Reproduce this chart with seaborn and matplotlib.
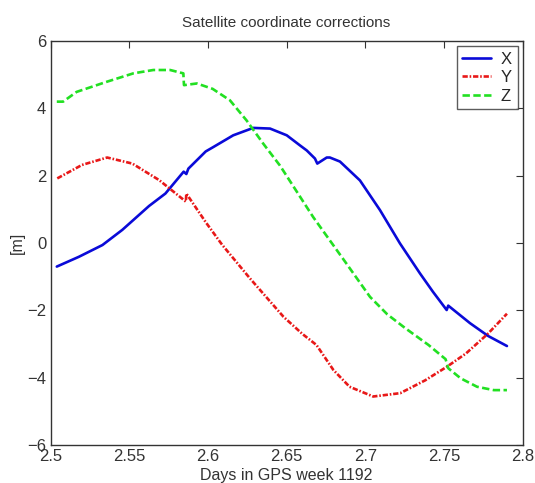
import numpy as np
import pandas as pd
import matplotlib
matplotlib.use('Agg')
import matplotlib.pyplot as plt
import seaborn as sns

# values
x_days = [2.504, 2.518, 2.533, 2.5456, 2.5626, 2.573, 2.5846, 2.5863, 2.5876, 2.5986,
          2.6034, 2.6161, 2.6288, 2.6395, 2.6501, 2.6585, 2.6628, 2.668, 2.6695, 2.6755,
          2.6775, 2.6839, 2.6966, 2.7093, 2.722, 2.7347, 2.743, 2.7517, 2.7527, 2.7665,
          2.778, 2.790]
x_corr = [-0.70, -0.41, -0.06, 0.39, 1.10, 1.47, 2.12, 2.05, 2.21, 2.72,
          2.85, 3.20, 3.42, 3.40, 3.20, 2.90, 2.75, 2.51, 2.36, 2.54,
          2.54, 2.42, 1.86, 0.98, -0.01, -0.90, -1.45, -1.99, -1.86, -2.38,
          -2.76, -3.06]

y_days = [2.5043, 2.520, 2.536, 2.552, 2.569, 2.586, 2.5863, 2.5986, 2.609, 2.6267,
          2.648, 2.660, 2.669, 2.6797, 2.690, 2.705, 2.7222, 2.738, 2.7517, 2.764,
          2.778, 2.790]
y_corr = [1.92, 2.32, 2.54, 2.36, 1.87, 1.23, 1.47, 0.62, -0.05, -1.05,
          -2.19, -2.70, -3.03, -3.77, -4.27, -4.56, -4.46, -4.08, -3.68, -3.28,
          -2.69, -2.10]

z_days = [2.504, 2.508, 2.5166, 2.5357, 2.5526, 2.5653, 2.576, 2.5844, 2.5848, 2.593,
          2.603, 2.614, 2.6246, 2.6352, 2.6458, 2.6669, 2.688, 2.703, 2.714, 2.7254,
          2.7402, 2.751, 2.7527, 2.7606, 2.771, 2.7816, 2.790]
z_corr = [4.20, 4.20, 4.49, 4.79, 5.04, 5.14, 5.14, 5.04, 4.69, 4.74,
          4.58, 4.24, 3.64, 2.95, 2.30, 0.77, -0.61, -1.60, -2.12, -2.53,
          -3.03, -3.45, -3.72, -4.02, -4.27, -4.37, -4.37]

sns.set_style('white')
plt.rcParams['font.family'] = ['Liberation Sans', 'DejaVu Sans']

fig = plt.figure(figsize=(5.35, 4.83), dpi=100)
ax = fig.add_axes([0.0944, 0.0787, 0.8826, 0.8363])

lw = 1.9
sns.lineplot(x=x_days, y=x_corr, ax=ax, color='#0a0ad8', lw=lw, label='X', sort=False)
sns.lineplot(x=y_days, y=y_corr, ax=ax, color='#e81818', lw=lw, label='Y', sort=False)
ax.lines[-1].set_dashes((2.0, 0.7, 0.6, 0.7))
sns.lineplot(x=z_days, y=z_corr, ax=ax, color='#22e022', lw=lw, label='Z', sort=False)
ax.lines[-1].set_dashes((2.8, 1.3))

ax.set_xlim(2.5, 2.8)
ax.set_ylim(-6, 6)
ax.set_xticks([2.5, 2.55, 2.6, 2.65, 2.7, 2.75, 2.8])
ax.set_xticklabels(['2.5', '2.55', '2.6', '2.65', '2.7', '2.75', '2.8'])
ax.set_yticks([-6, -4, -2, 0, 2, 4, 6])
ax.set_yticklabels(['\u22126', '\u22124', '\u22122', '0', '2', '4', '6'])
ax.tick_params(direction='in', length=5, width=0.8, top=True, right=True,
               labelsize=12, colors='#333333', pad=3)
for s in ax.spines.values():
    s.set_color('#333333')
    s.set_linewidth(1.0)

ax.set_title('Satellite coordinate corrections', fontsize=11, color='#333333', pad=10)
ax.set_xlabel('Days in GPS week 1192', fontsize=11.5, color='#333333', labelpad=3)
ax.set_ylabel('[m]', fontsize=11.5, color='#333333', labelpad=2)

leg = ax.legend(loc='upper right', fontsize=12, frameon=True, fancybox=False,
                borderaxespad=0.3, handlelength=1.7, handletextpad=0.6,
                labelspacing=0.2, borderpad=0.35)
leg.get_frame().set_edgecolor('#333333')
leg.get_frame().set_linewidth(1.0)

fig.savefig('out.png', dpi=100)
